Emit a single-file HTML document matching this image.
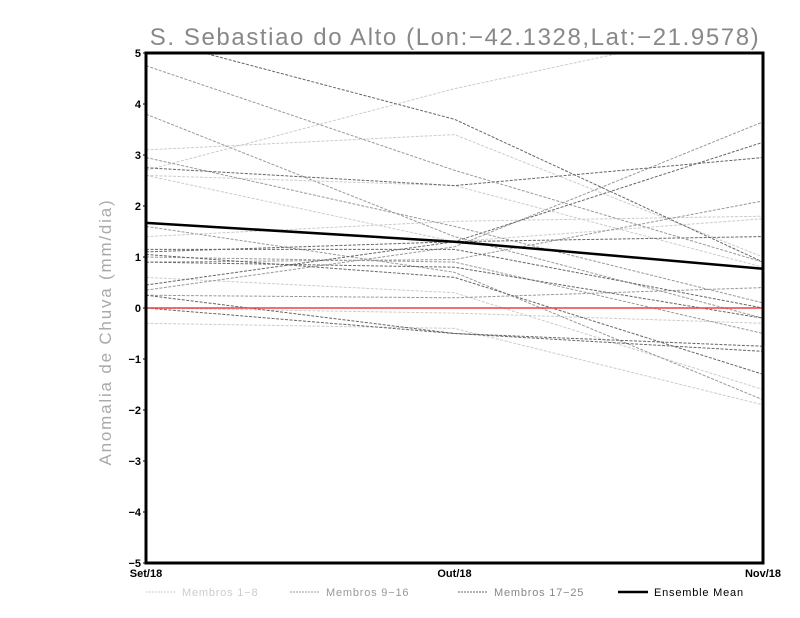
<!DOCTYPE html>
<html><head><meta charset="utf-8"><style>body{margin:0;background:#fff}svg{display:block}</style></head>
<body>
<svg id="chart" width="800" height="618" xmlns="http://www.w3.org/2000/svg" font-family="Liberation Sans, sans-serif">
<defs><clipPath id="clip"><rect x="146" y="53" width="617" height="510"/></clipPath></defs>
<text x="455" y="45" text-anchor="middle" font-size="24" letter-spacing="1.6" fill="#888">S. Sebastiao do Alto (Lon:−42.1328,Lat:−21.9578)</text>
<text transform="translate(111,332) rotate(-90)" text-anchor="middle" font-size="17" letter-spacing="1.8" fill="#aaa">Anomalia de Chuva (mm/dia)</text>
<g id="series" clip-path="url(#clip)"></g>
<g id="axes"></g>
<g font-size="11" letter-spacing="0.8">
<line x1="146" y1="592" x2="176" y2="592" stroke="#ccc" stroke-dasharray="2,1"/><text x="182" y="596" fill="#ccc">Membros 1−8</text>
<line x1="290" y1="592" x2="320" y2="592" stroke="#999" stroke-dasharray="2,1"/><text x="326" y="596" fill="#999">Membros 9−16</text>
<line x1="458" y1="592" x2="488" y2="592" stroke="#666" stroke-dasharray="2,1"/><text x="494" y="596" fill="#888">Membros 17−25</text>
<line x1="618" y1="592" x2="648" y2="592" stroke="#000" stroke-width="2.5"/><text x="654" y="596" fill="#000">Ensemble Mean</text>
</g>
</svg>
<script>
const categories = ["Set/18","Out/18","Nov/18"];
const yTicks = [-5,-4,-3,-2,-1,0,1,2,3,4,5];
const members1to8 = [[2.7,4.3,5.6],[3.1,3.4,1.0],[2.6,1.3,1.75],[1.4,1.7,1.8],[0.6,0.3,-1.6],[-0.3,-0.4,-1.9],[0.0,-0.1,-0.3],[2.6,2.4,0.8]];
const members9to16 = [[4.75,2.7,0.9],[3.8,1.4,-0.2],[2.95,1.6,0.1],[0.35,1.2,3.65],[1.0,0.9,-0.5],[0.25,0.2,0.4],[1.6,0.7,-1.8],[0.9,0.95,2.1]];
const members17to25 = [[5.3,3.7,0.9],[2.75,2.4,2.95],[0.45,1.3,3.25],[1.15,1.15,0.0],[1.1,1.3,1.4],[0.9,0.8,-0.2],[0.25,-0.5,-0.75],[0.0,-0.5,-0.85],[1.05,0.6,-1.3]];
const ensembleMean = [1.67,1.3,0.77];
const NS="http://www.w3.org/2000/svg";
const x0=146,x1=763,y0=53,y1=563;
const xs=i=>x0+(x1-x0)*i/(categories.length-1);
const ys=v=>y1-(v+5)/10*(y1-y0);
const g=document.getElementById('series'), ax=document.getElementById('axes');
function line(vals,color,w,dash,name){const p=document.createElementNS(NS,'polyline');
p.setAttribute('points',vals.map((v,i)=>xs(i)+','+ys(v)).join(' '));
p.setAttribute('fill','none');p.setAttribute('stroke',color);p.setAttribute('stroke-width',w);
if(dash)p.setAttribute('stroke-dasharray',dash);


g.appendChild(p);}
members1to8.forEach(m=>line(m,'#ccc',1,'3,1.5','member-line-1-8'));
members9to16.forEach(m=>line(m,'#999',1,'3,1.5','member-line-9-16'));
members17to25.forEach(m=>line(m,'#666',1,'3,1.5','member-line-17-25'));
const z=document.createElementNS(NS,'line');z.setAttribute('x1',x0);z.setAttribute('x2',x1);z.setAttribute('y1',ys(0));z.setAttribute('y2',ys(0));z.setAttribute('stroke','#f04040');z.setAttribute('stroke-width',1.5);


g.appendChild(z);
line(ensembleMean,'#000',2.5,null,'ensemble-mean-line');
const fr=document.createElementNS(NS,'rect');fr.setAttribute('x',x0);fr.setAttribute('y',y0);fr.setAttribute('width',x1-x0);fr.setAttribute('height',y1-y0);fr.setAttribute('fill','none');fr.setAttribute('stroke','#000');fr.setAttribute('stroke-width',3);


ax.appendChild(fr);
yTicks.forEach(t=>{const tx=document.createElementNS(NS,'text');tx.setAttribute('x',x0-5);tx.setAttribute('y',ys(t)+4);tx.setAttribute('text-anchor','end');tx.setAttribute('font-size','11');tx.setAttribute('font-weight','bold');tx.textContent=(t<0?'−':'')+Math.abs(t);


ax.appendChild(tx);
const tk=document.createElementNS(NS,'line');tk.setAttribute('x1',x0-3);tk.setAttribute('x2',x0);tk.setAttribute('y1',ys(t));tk.setAttribute('y2',ys(t));tk.setAttribute('stroke','#000');


ax.appendChild(tk);});
categories.forEach((c,i)=>{const tx=document.createElementNS(NS,'text');tx.setAttribute('x',xs(i));tx.setAttribute('y',577);tx.setAttribute('text-anchor','middle');tx.setAttribute('font-size','11');tx.setAttribute('font-weight','bold');tx.textContent=c;


ax.appendChild(tx);});
</script>
</body></html>
